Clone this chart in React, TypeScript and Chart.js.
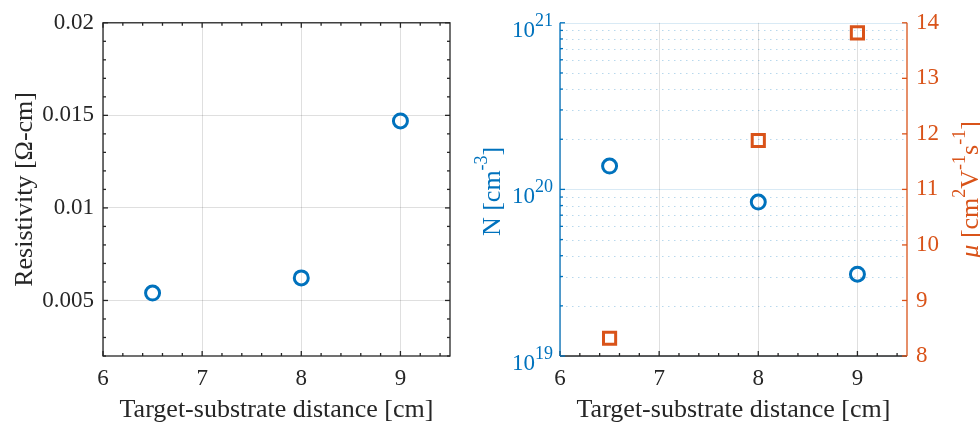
import React, { useEffect, useRef } from "react";
import { Chart, registerables } from "chart.js";

Chart.register(...registerables);

// Measured film properties versus target-substrate distance
const distances = [6.5, 8, 9];
const resistivity = [0.0054, 0.00622, 0.0147];
const carrierDensity = [1.38e20, 8.4e19, 3.1e19];
const mobility = [8.32, 11.88, 13.82];

// Axis ticks
const distanceTicks = [6, 7, 8, 9];
const resistivityTicks = [0.005, 0.01, 0.015, 0.02];
const densityExponents = [19, 20, 21];
const mobilityTicks = [8, 9, 10, 11, 12, 13, 14];

const BLUE = "#0072BD";
const ORANGE = "#D95319";
const INK = "#262626";
const GRID = "rgba(38,38,38,0.15)";
const LOG_MAJOR = "rgba(0,114,189,0.15)";
const LOG_MINOR = "rgba(0,114,189,0.28)";
const SERIF = "'Liberation Serif', 'Times New Roman', serif";
const TICK_SIZE = 23;
const TITLE_SIZE = 26;
const SUP_SIZE = 18;

Chart.defaults.font.family = SERIF;

type Seg = { text: string; sup?: boolean; italic?: boolean };

function steps(from: number, to: number, step: number): number[] {
  const out: number[] = [];
  const n = Math.round((to - from) / step);
  for (let i = 0; i <= n; i++) out.push(Math.round((from + i * step) * 1e6) / 1e6);
  return out;
}

// Draws a label made of normal and superscript pieces, centred on (cx, cy)
function drawRich(ctx: CanvasRenderingContext2D, segs: Seg[], cx: number, cy: number, color: string, rotate: boolean) {
  ctx.save();
  ctx.translate(cx, cy);
  if (rotate) ctx.rotate(-Math.PI / 2);
  ctx.fillStyle = color;
  ctx.textAlign = "left";
  ctx.textBaseline = "alphabetic";
  const fontOf = (s: Seg) => `${s.italic ? "italic " : ""}${s.sup ? SUP_SIZE : TITLE_SIZE}px ${SERIF}`;
  let total = 0;
  for (const s of segs) {
    ctx.font = fontOf(s);
    total += ctx.measureText(s.text).width;
  }
  let x = -total / 2;
  const base = TITLE_SIZE * 0.33;
  for (const s of segs) {
    ctx.font = fontOf(s);
    ctx.fillText(s.text, x, s.sup ? base - TITLE_SIZE * 0.5 : base);
    x += ctx.measureText(s.text).width;
  }
  ctx.restore();
}

function line(ctx: CanvasRenderingContext2D, x1: number, y1: number, x2: number, y2: number) {
  ctx.beginPath();
  ctx.moveTo(x1, y1);
  ctx.lineTo(x2, y2);
  ctx.stroke();
}

const tickFont = { family: SERIF, size: TICK_SIZE };

const distanceAxis = (height: number) => ({
  type: "linear",
  position: "bottom",
  min: 6,
  max: 9.5,
  afterBuildTicks: (s: any) => {
    s.ticks = distanceTicks.map((v) => ({ value: v }));
  },
  ticks: { font: tickFont, color: INK, padding: 9, callback: (v: any) => String(v) },
  grid: { color: GRID, lineWidth: 1, drawTicks: false },
  border: { display: false },
  title: {
    display: true,
    text: "Target-substrate distance [cm]",
    font: { family: SERIF, size: TITLE_SIZE },
    color: INK,
    padding: { top: 0, bottom: 2 },
  },
  afterFit: (s: any) => {
    s.height = height;
  },
});

// Box with inward ticks on all four sides
const resistivityFrame = {
  id: "resistivityFrame",
  beforeDatasetsDraw(chart: any) {
    const { ctx, chartArea, scales } = chart;
    const { left, right, top, bottom } = chartArea;
    const { x, y } = scales;
    ctx.save();
    ctx.strokeStyle = INK;
    ctx.lineWidth = 1.3;
    for (const v of steps(6, 9.4, 0.2)) {
      const px = x.getPixelForValue(v);
      const len = distanceTicks.includes(v) ? 5 : 3;
      line(ctx, px, bottom, px, bottom - len);
      line(ctx, px, top, px, top + len);
    }
    for (const v of steps(0.002, 0.02, 0.001)) {
      const py = y.getPixelForValue(v);
      const len = resistivityTicks.some((t) => Math.abs(t - v) < 1e-9) ? 5 : 3;
      line(ctx, left, py, left + len, py);
      line(ctx, right, py, right - len, py);
    }
    ctx.strokeRect(left, top, right - left, bottom - top);
    ctx.restore();
  },
  afterDraw(chart: any) {
    const { ctx, chartArea } = chart;
    drawRich(ctx, [{ text: "Resistivity [Ω-cm]" }], 23, (chartArea.top + chartArea.bottom) / 2, INK, true);
  },
};

const densityFrame = {
  id: "densityFrame",
  beforeDraw(chart: any) {
    const { ctx, chartArea, scales } = chart;
    const { left, right } = chartArea;
    const y = scales.y;
    ctx.save();
    ctx.lineWidth = 1;
    for (let i = 0; i < densityExponents.length; i++) {
      const e = densityExponents[i];
      const mults = i === densityExponents.length - 1 ? [1] : [1, 2, 3, 4, 5, 6, 7, 8, 9];
      for (const m of mults) {
        const py = Math.round(y.getPixelForValue(m * Math.pow(10, e))) + 0.5;
        ctx.strokeStyle = m === 1 ? LOG_MAJOR : LOG_MINOR;
        ctx.setLineDash(m === 1 ? [] : [1.5, 4.5]);
        line(ctx, left, py, right, py);
      }
    }
    ctx.restore();
  },
  beforeDatasetsDraw(chart: any) {
    const { ctx, chartArea, scales } = chart;
    const { left, right, top, bottom } = chartArea;
    const { x, y, y1 } = scales;
    ctx.save();
    // bottom axis
    ctx.strokeStyle = INK;
    ctx.lineWidth = 1.3;
    line(ctx, left, bottom, right, bottom);
    for (const v of steps(6, 9.4, 0.2)) {
      const px = x.getPixelForValue(v);
      line(ctx, px, bottom, px, bottom - (distanceTicks.includes(v) ? 5 : 3));
    }
    // left log axis
    ctx.strokeStyle = BLUE;
    line(ctx, left, top, left, bottom);
    for (let i = 0; i < densityExponents.length; i++) {
      const e = densityExponents[i];
      const mults = i === densityExponents.length - 1 ? [1] : [1, 2, 3, 4, 5, 6, 7, 8, 9];
      for (const m of mults) {
        const py = y.getPixelForValue(m * Math.pow(10, e));
        line(ctx, left, py, left + (m === 1 ? 5 : 3), py);
      }
    }
    // right mobility axis
    ctx.strokeStyle = ORANGE;
    line(ctx, right, top, right, bottom);
    for (const v of mobilityTicks) {
      const py = y1.getPixelForValue(v);
      line(ctx, right, py, right - 5, py);
    }
    ctx.restore();
  },
  afterDraw(chart: any) {
    const { ctx, chartArea, scales } = chart;
    const { left, top, bottom } = chartArea;
    const y = scales.y;
    ctx.save();
    ctx.fillStyle = BLUE;
    ctx.textBaseline = "alphabetic";
    ctx.textAlign = "left";
    for (const e of densityExponents) {
      const py = y.getPixelForValue(Math.pow(10, e));
      ctx.font = `${SUP_SIZE}px ${SERIF}`;
      const ew = ctx.measureText(String(e)).width;
      ctx.font = `${TICK_SIZE}px ${SERIF}`;
      const bw = ctx.measureText("10").width;
      const x0 = left - 7 - ew - bw;
      ctx.fillText("10", x0, py + 14);
      ctx.font = `${SUP_SIZE}px ${SERIF}`;
      ctx.fillText(String(e), x0 + bw, py + 3);
    }
    ctx.restore();
    const cy = (top + bottom) / 2;
    drawRich(ctx, [{ text: "N [cm" }, { text: "-3", sup: true }, { text: "]" }], 31, cy + 2, BLUE, true);
    drawRich(
      ctx,
      [
        { text: "μ", italic: true },
        { text: " [cm" },
        { text: "2", sup: true },
        { text: "V" },
        { text: "-1", sup: true },
        { text: "s" },
        { text: "-1", sup: true },
        { text: "]" },
      ],
      509,
      cy,
      ORANGE,
      true
    );
  },
};

function resistivityConfig(): any {
  return {
    type: "scatter",
    data: {
      datasets: [
        {
          label: "Resistivity",
          data: distances.map((d, i) => ({ x: d, y: resistivity[i] })),
          pointStyle: "circle",
          pointRadius: 7,
          borderWidth: 3,
          borderColor: BLUE,
          backgroundColor: "rgba(0,0,0,0)",
          showLine: false,
        },
      ],
    },
    options: {
      responsive: false,
      animation: false,
      events: [],
      layout: { padding: { top: 20, right: 10, left: 0, bottom: 0 } },
      plugins: { legend: { display: false }, tooltip: { enabled: false } },
      scales: {
        x: distanceAxis(72),
        y: {
          type: "linear",
          position: "left",
          min: 0.002,
          max: 0.02,
          afterBuildTicks: (s: any) => {
            s.ticks = resistivityTicks.map((v) => ({ value: v }));
          },
          ticks: { font: tickFont, color: INK, padding: 9, callback: (v: any) => String(v) },
          grid: { color: GRID, lineWidth: 1, drawTicks: false },
          border: { display: false },
          afterFit: (s: any) => {
            s.width = 103;
          },
        },
      },
    },
    plugins: [resistivityFrame],
  };
}

function densityConfig(): any {
  return {
    type: "scatter",
    data: {
      datasets: [
        {
          label: "N",
          data: distances.map((d, i) => ({ x: d, y: carrierDensity[i] })),
          yAxisID: "y",
          pointStyle: "circle",
          pointRadius: 7,
          borderWidth: 3,
          borderColor: BLUE,
          backgroundColor: "rgba(0,0,0,0)",
          showLine: false,
        },
        {
          label: "μ",
          data: distances.map((d, i) => ({ x: d, y: mobility[i] })),
          yAxisID: "y1",
          pointStyle: "rect",
          pointRadius: 8.6,
          borderWidth: 3,
          borderColor: ORANGE,
          backgroundColor: "rgba(0,0,0,0)",
          showLine: false,
        },
      ],
    },
    options: {
      responsive: false,
      animation: false,
      events: [],
      layout: { padding: { top: 20, right: 0, left: 0, bottom: 0 } },
      plugins: { legend: { display: false }, tooltip: { enabled: false } },
      scales: {
        x: distanceAxis(72),
        y: {
          type: "logarithmic",
          position: "left",
          min: 1e19,
          max: 1e21,
          ticks: { display: false },
          grid: { display: false, drawTicks: false },
          border: { display: false },
          afterFit: (s: any) => {
            s.width = 100;
          },
        },
        y1: {
          type: "linear",
          position: "right",
          min: 8,
          max: 14,
          afterBuildTicks: (s: any) => {
            s.ticks = mobilityTicks.map((v) => ({ value: v }));
          },
          ticks: { font: tickFont, color: ORANGE, padding: 9, callback: (v: any) => String(v) },
          grid: { display: false, drawTicks: false },
          border: { display: false },
          afterFit: (s: any) => {
            s.width = 73;
          },
        },
      },
    },
    plugins: [densityFrame],
  };
}

function ChartCanvas({ makeConfig, left, width, height }: { makeConfig: () => any; left: number; width: number; height: number }) {
  const ref = useRef<HTMLCanvasElement>(null);
  useEffect(() => {
    const chart = new Chart(ref.current as HTMLCanvasElement, makeConfig());
    return () => chart.destroy();
  }, [makeConfig]);
  return (
    <canvas
      ref={ref}
      width={width}
      height={height}
      style={{ position: "absolute", left, top: 0, width, height }}
    />
  );
}

export default function App() {
  return (
    <div style={{ position: "absolute", left: 0, top: 0, width: 980, height: 428, background: "#ffffff", overflow: "hidden" }}>
      <ChartCanvas makeConfig={resistivityConfig} left={0} width={460} height={428} />
      <ChartCanvas makeConfig={densityConfig} left={460} width={520} height={428} />
    </div>
  );
}
